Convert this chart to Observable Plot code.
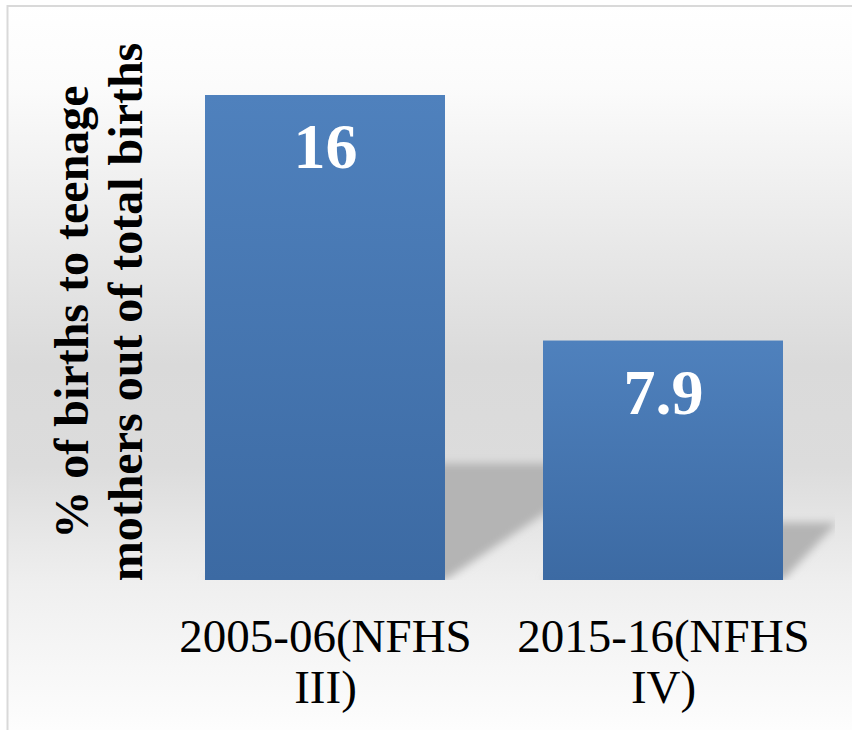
<!DOCTYPE html>
<html>
<head>
<meta charset="utf-8">
<script src="https://cdn.jsdelivr.net/npm/d3@7"></script>
<script src="https://cdn.jsdelivr.net/npm/@observablehq/plot@0.6"></script>
<style>
  html, body { margin: 0; padding: 0; background: #ffffff; overflow: hidden; }
  #chart { width: 852px; height: 730px; }
</style>
</head>
<body>
<div id="chart"></div>
<script>
// ---- Data ----
const surveyRounds = ["2005-06(NFHS III)", "2015-16(NFHS IV)"];
const tickLabels = ["2005-06(NFHS\nIII)", "2015-16(NFHS\nIV)"];
const teenBirthShare = [16, 7.9];
const valueLabels = ["16", "7.9"];
const yLabelLines = ["% of births to teenage", "mothers out of total births"];

const rows = surveyRounds.map((s, i) => ({round: s, value: teenBirthShare[i], label: valueLabels[i], tick: tickLabels[i]}));

const W = 852, H = 730;
const serif = "Liberation Serif, Times New Roman, serif";

// defs + background + border
function backgroundMark(index, scales, vals, dims) {
  const g = d3.create("svg:g");
  const defs = g.append("defs");
  const bg = defs.append("linearGradient").attr("id", "bgGrad")
    .attr("gradientUnits", "userSpaceOnUse").attr("x1", 0).attr("y1", 0).attr("x2", 0).attr("y2", dims.height);
  [[0, "#ffffff"], [0.12, "#fbfbfb"], [0.5, "#dadada"], [0.64, "#dcdcdc"], [0.8, "#efefef"], [1, "#fdfdfd"]]
    .forEach(([o, c]) => bg.append("stop").attr("offset", o).attr("stop-color", c));
  const bar = defs.append("linearGradient").attr("id", "barGrad")
    .attr("x1", 0).attr("y1", 0).attr("x2", 0).attr("y2", 1);
  bar.append("stop").attr("offset", 0).attr("stop-color", "#4f81bd");
  bar.append("stop").attr("offset", 1).attr("stop-color", "#3c6aa3");
  const f = defs.append("filter").attr("id", "shadowBlur")
    .attr("x", "-30%").attr("y", "-30%").attr("width", "160%").attr("height", "160%");
  f.append("feGaussianBlur").attr("stdDeviation", 4);
  g.append("rect").attr("x", 7.5).attr("y", 6).attr("width", dims.width + 20).attr("height", dims.height + 20)
    .attr("fill", "url(#bgGrad)").attr("stroke", "#d9d9d9").attr("stroke-width", 2);
  return g.node();
}

// perspective shadows behind bars
function shadowMark(index, scales, vals, dims) {
  const x = scales.x, y = scales.y;
  const bw = x.bandwidth ? x.bandwidth() : 240;
  const yb = y(0);
  const g0 = d3.create("svg:g");
  g0.append("defs").append("clipPath").attr("id", "shadowClip")
    .append("rect").attr("x", 0).attr("y", 0).attr("width", dims.width - 17).attr("height", yb);
  const g = g0.append("g").attr("clip-path", "url(#shadowClip)")
    .append("g").attr("filter", "url(#shadowBlur)");
  const Vx = dims.width + 510, Vy = -34;
  surveyRounds.forEach((r, i) => {
    const x0 = x(r), x1 = x0 + bw, yt = y(teenBirthShare[i]);
    const sh = 0.24 * (yb - yt);
    const t = sh / (yb - Vy);
    const p = (px) => px + t * (Vx - px);
    g.append("path")
      .attr("d", `M${x0},${yb}L${x1},${yb}L${p(x1)},${yb - sh}L${p(x0)},${yb - sh}Z`)
      .attr("fill", "#b4b4b4");
  });
  return g0.node();
}

const plot = Plot.plot({
  width: W,
  height: H,
  marginTop: 95,
  marginBottom: 150,
  marginLeft: 171,
  marginRight: 35,
  style: {background: "white"},
  x: {domain: surveyRounds, paddingInner: 0.29, paddingOuter: 0.1, axis: null},
  y: {domain: [0, 16], axis: null},
  marks: [
    backgroundMark,
    shadowMark,
    Plot.barY(rows, {x: "round", y: "value", fill: "url(#barGrad)"}),
    Plot.text(rows, {
      x: "round", y: "value", text: "label",
      fill: "white", fontSize: 64, fontWeight: "bold", fontFamily: serif,
      lineAnchor: "middle", dy: 52.5
    }),
    Plot.text(rows, {
      x: "round", text: "tick", frameAnchor: "bottom",
      fill: "black", fontSize: 47, fontFamily: serif,
      lineAnchor: "top", lineHeight: 1.085, dy: 35.6
    }),
    Plot.text([yLabelLines[0]], {
      text: d => d, frameAnchor: "left", rotate: -90, textAnchor: "middle",
      fill: "black", fontSize: 48, fontWeight: "bold", fontFamily: serif,
      lineAnchor: "middle", dx: -98.4, dy: -26
    }),
    Plot.text([yLabelLines[1]], {
      text: d => d, frameAnchor: "left", rotate: -90, textAnchor: "middle",
      fill: "black", fontSize: 48, fontWeight: "bold", fontFamily: serif,
      lineAnchor: "middle", dx: -44.4, dy: -26
    })
  ]
});

document.getElementById("chart").appendChild(plot);
</script>
</body>
</html>
